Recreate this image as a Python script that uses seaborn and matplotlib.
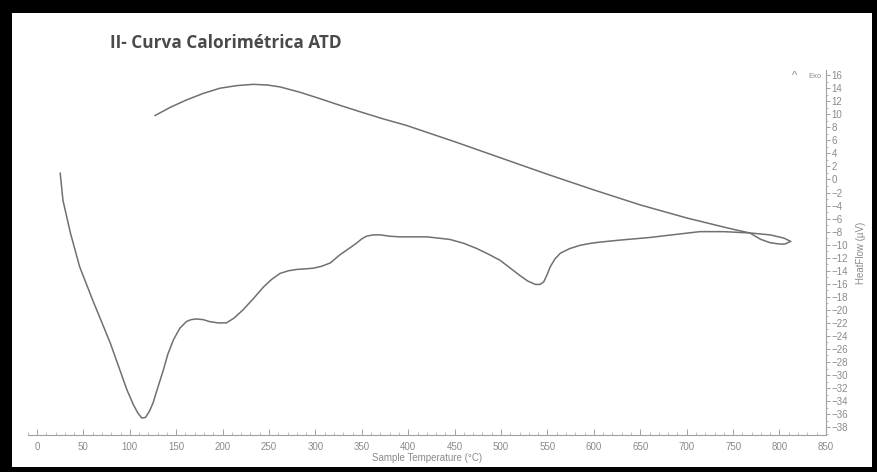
import matplotlib
matplotlib.use("Agg")
import matplotlib.pyplot as plt
from matplotlib.patches import Rectangle
from matplotlib.ticker import MultipleLocator
import seaborn as sns
import pandas as pd

# --- data ---
heat_x = [25, 28, 36, 46, 60, 79, 97, 104, 109, 113, 117, 121, 125, 130, 136, 141, 147,
          154, 161, 166, 172, 179, 186, 195, 204, 212, 222, 233, 244, 253, 262, 271, 280,
          290, 298, 307, 316, 326, 335, 344, 350, 355, 362, 370, 380, 391, 405, 420, 433,
          445, 460, 474, 487, 499, 510, 520, 529, 537, 542, 546, 549, 553, 558, 564, 574,
          585, 596, 607, 628, 660, 714, 740, 768, 790, 805, 812]
heat_y = [1.0, -3.2, -8.2, -13.4, -18.5, -25.1, -32.3, -34.6, -35.9, -36.6, -36.5, -35.6,
          -34.3, -32.0, -29.3, -26.8, -24.6, -22.8, -21.8, -21.5, -21.4, -21.5, -21.8,
          -22.0, -22.0, -21.3, -20.0, -18.3, -16.5, -15.3, -14.4, -14.0, -13.8, -13.7,
          -13.6, -13.3, -12.8, -11.6, -10.7, -9.8, -9.1, -8.7, -8.5, -8.5, -8.7, -8.8,
          -8.8, -8.8, -9.0, -9.2, -9.8, -10.6, -11.5, -12.4, -13.6, -14.7, -15.6, -16.1,
          -16.1, -15.7, -14.8, -13.4, -12.2, -11.3, -10.6, -10.1, -9.8, -9.6, -9.3, -8.9,
          -8.0, -8.0, -8.2, -8.5, -9.0, -9.5]
cool_x = [812, 806, 800, 790, 780, 768, 755, 740, 700, 650, 600, 550, 500, 450, 398, 373,
          348, 326, 305, 283, 262, 248, 233, 215, 197, 179, 161, 144, 127]
cool_y = [-9.5, -9.9, -9.9, -9.7, -9.2, -8.2, -7.8, -7.3, -5.9, -3.9, -1.6, 0.8, 3.3, 5.8,
          8.3, 9.3, 10.4, 11.4, 12.4, 13.4, 14.2, 14.5, 14.6, 14.4, 14.0, 13.2, 12.2,
          11.1, 9.8]
x_ticks = list(range(0, 851, 50))
y_ticks = list(range(-38, 17, 2))
title = "II- Curva Calorimétrica ATD"
x_label = "Sample Temperature (°C)"
y_label = "HeatFlow (µV)"

heat = pd.DataFrame({"T": heat_x, "HF": heat_y})
cool = pd.DataFrame({"T": cool_x, "HF": cool_y})

sns.set_theme(style="white")
plt.rcParams["font.family"] = ["Liberation Sans", "DejaVu Sans"]

W, H = 877, 472
fig = plt.figure(figsize=(W / 100, H / 100), dpi=100)
fig.patch.set_facecolor("black")
# white sheet inside the black frame
fig.patches.append(Rectangle((12 / W, 1 - 467 / H), (872 - 12) / W, (467 - 13) / H,
                             transform=fig.transFigure, facecolor="white",
                             edgecolor="none", zorder=-10))

ax_left, ax_right = 27.7, 825.9
ax_top, ax_bot = 70, 435
ax = fig.add_axes([ax_left / W, 1 - ax_bot / H, (ax_right - ax_left) / W, (ax_bot - ax_top) / H])
ax.set_facecolor("none")
ax.set_zorder(5)

lc = "#707070"
sns.lineplot(data=heat, x="T", y="HF", sort=False, estimator=None, color=lc, lw=1.1, ax=ax)
sns.lineplot(data=cool, x="T", y="HF", sort=False, estimator=None, color=lc, lw=1.1, ax=ax)

ax.set_xlim(-10, 850)
ax.set_ylim(-39.2, 16.8)

gc = "#8a8a8a"
for s in ["top", "left"]:
    ax.spines[s].set_visible(False)
for s in ["bottom", "right"]:
    ax.spines[s].set_color("#a0a0a0")
    ax.spines[s].set_linewidth(0.8)

ax.set_xticks(x_ticks)
ax.xaxis.set_minor_locator(MultipleLocator(10))
ax.tick_params(axis="x", which="both", direction="in", colors="#a0a0a0", labelcolor=gc,
               labelsize=7, pad=5, bottom=True)
ax.tick_params(axis="x", which="major", length=4, width=0.7)
ax.tick_params(axis="x", which="minor", length=2, width=0.5)

ax.yaxis.tick_right()
ax.yaxis.set_label_position("right")
ax.set_yticks(y_ticks)
ax.yaxis.set_minor_locator(MultipleLocator(1))
ax.tick_params(axis="y", which="both", direction="out", colors="#a0a0a0", labelcolor=gc,
               labelsize=7, pad=1, right=True, left=False)
ax.tick_params(axis="y", which="major", length=3, width=0.7)
ax.tick_params(axis="y", which="minor", length=1.5, width=0.5)

ax.set_xlabel(x_label, fontsize=7, color=gc, labelpad=1)
ax.set_ylabel(y_label, fontsize=7, color=gc, labelpad=6)

fig.text(110 / W, 1 - 43 / H, title, fontsize=12.4, fontweight="bold", color="#4a4a4a",
         va="center", ha="left", family=["Open Sans", "DejaVu Sans"], zorder=6)
fig.text(795 / W, 1 - 76 / H, "^", fontsize=8, color=gc, ha="center", va="center", zorder=6)
fig.text(808 / W, 1 - 77 / H, "Exo", fontsize=5.5, color=gc, ha="left", va="center", zorder=6)

fig.savefig("out.png", dpi=100, facecolor=fig.get_facecolor())
